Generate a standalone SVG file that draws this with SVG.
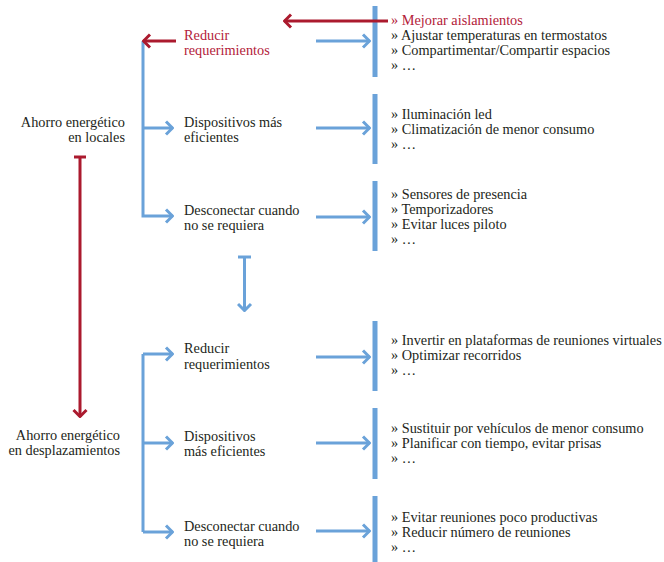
<svg xmlns="http://www.w3.org/2000/svg" width="664" height="562" viewBox="0 0 664 562" font-family="'Liberation Serif', 'Times New Roman', serif">
<defs>
<style>
text{font-family:"Liberation Serif","Times New Roman",serif;font-size:14.3px;fill:#231f20}
.r{fill:#b3213a}
.end{text-anchor:end}
.b{stroke:#6aa2d9;stroke-width:3;fill:none}
.rl{stroke:#ab1a2e;stroke-width:3;fill:none}
.bar{fill:#6aa2d9}
</style>
<marker id="ab" markerUnits="userSpaceOnUse" viewBox="0 0 10 16" refX="9" refY="8" markerWidth="10" markerHeight="16" orient="auto">
<path d="M2,1.5 L8.5,8 L2,14.5" fill="none" stroke="#6aa2d9" stroke-width="3"/>
</marker>
<marker id="ar" markerUnits="userSpaceOnUse" viewBox="0 0 10 16" refX="9" refY="8" markerWidth="10" markerHeight="16" orient="auto">
<path d="M2,1.5 L8.5,8 L2,14.5" fill="none" stroke="#ab1a2e" stroke-width="3"/>
</marker>
</defs>
<rect width="664" height="562" fill="#ffffff"/>

<g id="connectors">
<rect class="bar" x="372.5" y="6" width="5" height="71"/>
<rect class="bar" x="372.5" y="94" width="5" height="70"/>
<rect class="bar" x="372.5" y="181" width="5" height="70"/>
<rect class="bar" x="372.5" y="321" width="5" height="70"/>
<rect class="bar" x="372.5" y="408" width="5" height="71"/>
<rect class="bar" x="372.5" y="496" width="5" height="70"/>
<path class="b" d="M143,41 V216 H173" marker-end="url(#ab)"/>
<path class="b" d="M143,128 H173" marker-end="url(#ab)"/>
<path class="b" d="M143,354 V532 M143,354 H173" marker-end="url(#ab)"/>
<path class="b" d="M143,443 H173" marker-end="url(#ab)"/>
<path class="b" d="M143,532 H173" marker-end="url(#ab)"/>
<path class="b" d="M316,41 H370" marker-end="url(#ab)"/>
<path class="b" d="M316,128 H370" marker-end="url(#ab)"/>
<path class="b" d="M316,217 H370" marker-end="url(#ab)"/>
<path class="b" d="M316,357 H370" marker-end="url(#ab)"/>
<path class="b" d="M316,443 H370" marker-end="url(#ab)"/>
<path class="b" d="M316,531 H370" marker-end="url(#ab)"/>
<path class="b" d="M244.5,257 V311" marker-end="url(#ab)"/>
<path class="b" d="M238,257 H251"/>
<path class="rl" d="M176,41 H143" marker-end="url(#ar)"/>
<path class="rl" d="M388,21 H284" marker-end="url(#ar)"/>
<path class="rl" d="M80,157 V417" marker-end="url(#ar)"/>
<path class="rl" d="M74,157 H86"/>
</g>

<g id="locales">
<text class="end" x="125" y="127">Ahorro energético</text>
<text class="end" x="125" y="142">en locales</text>
</g>
<g id="desplazamientos">
<text class="end" x="120" y="440">Ahorro energético</text>
<text class="end" x="120" y="455">en desplazamientos</text>
</g>

<g id="l-reducir">
<text class="r" x="184" y="40">Reducir</text>
<text class="r" x="184" y="55">requerimientos</text>
</g>
<g id="l-dispositivos">
<text x="184" y="127">Dispositivos más</text>
<text x="184" y="142">eficientes</text>
</g>
<g id="l-desconectar">
<text x="184" y="215">Desconectar cuando</text>
<text x="184" y="230">no se requiera</text>
</g>
<g id="d-reducir">
<text x="184" y="353">Reducir</text>
<text x="184" y="369">requerimientos</text>
</g>
<g id="d-dispositivos">
<text x="184" y="441">Dispositivos</text>
<text x="184" y="456">más eficientes</text>
</g>
<g id="d-desconectar">
<text x="184" y="531">Desconectar cuando</text>
<text x="184" y="546">no se requiera</text>
</g>

<g id="list-l-reducir">
<text class="r" x="391" y="25">» Mejorar aislamientos</text>
<text x="391" y="40">» Ajustar temperaturas en termostatos</text>
<text x="391" y="55">» Compartimentar/Compartir espacios</text>
<text x="391" y="70">» …</text>
</g>
<g id="list-l-dispositivos">
<text x="391" y="119">» Iluminación led</text>
<text x="391" y="134">» Climatización de menor consumo</text>
<text x="391" y="149">» …</text>
</g>
<g id="list-l-desconectar">
<text x="391" y="199">» Sensores de presencia</text>
<text x="391" y="214">» Temporizadores</text>
<text x="391" y="229">» Evitar luces piloto</text>
<text x="391" y="244">» …</text>
</g>
<g id="list-d-reducir">
<text x="391" y="345">» Invertir en plataformas de reuniones virtuales</text>
<text x="391" y="360">» Optimizar recorridos</text>
<text x="391" y="375">» …</text>
</g>
<g id="list-d-dispositivos">
<text x="391" y="433">» Sustituir por vehículos de menor consumo</text>
<text x="391" y="448">» Planificar con tiempo, evitar prisas</text>
<text x="391" y="463">» …</text>
</g>
<g id="list-d-desconectar">
<text x="391" y="522">» Evitar reuniones poco productivas</text>
<text x="391" y="537">» Reducir número de reuniones</text>
<text x="391" y="552">» …</text>
</g>
</svg>
